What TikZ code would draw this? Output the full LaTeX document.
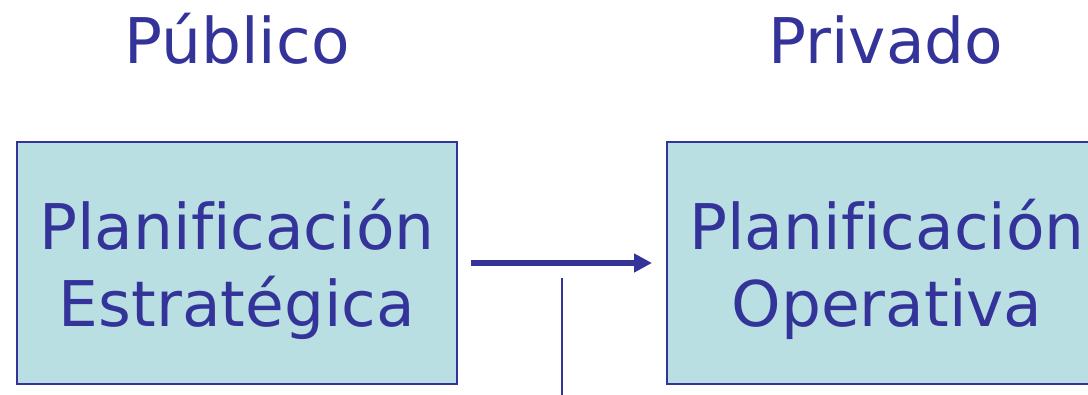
\documentclass[tikz,border=0pt]{standalone}
\usepackage{fontspec}
\setmainfont[Ligatures=NoCommon]{DejaVu Sans}
\usetikzlibrary{arrows.meta}
\definecolor{navy}{HTML}{333399}
\definecolor{boxfill}{HTML}{BADFE3}
\tikzset{
  plan/.style={draw=navy, line width=2pt, fill=boxfill, minimum width=440pt, minimum height=242pt, inner sep=0pt},
  plantext/.style={align=center, text=navy, inner sep=0pt, font=\fontsize{63}{77}\selectfont, yshift=-6pt},
  head/.style={text=navy, font=\fontsize{63}{78}\selectfont, anchor=base, inner sep=0pt},
  flow/.style={draw=navy, line width=6pt, -{Triangle[length=18pt,width=18pt]}},
  stem/.style={draw=navy, line width=2pt}
}
\begin{document}
\begin{tikzpicture}[x=1pt,y=-1pt]
\useasboundingbox (0,0) rectangle (1088,394);
\clip (0,0) rectangle (1088,394);
\node[head] (pub) at (237,63) {Público};
\node[head] (priv) at (886,63) {Privado};
\node[plan] (est) at (237,263) {};
\node[plantext] (estT) at (est.center) {Planificación\\Estratégica};
\node[plan] (ope) at (887,263) {};
\node[plantext] (opeT) at (ope.center) {Planificación\\Operativa};
\coordinate (a0) at (471,263);
\coordinate (a1) at (652,263);
\draw[flow] (a0) -- (a1);
\coordinate (s0) at (562,278);
\coordinate (s1) at (562,396);
\draw[stem] (s0) -- (s1);
\end{tikzpicture}
\end{document}
